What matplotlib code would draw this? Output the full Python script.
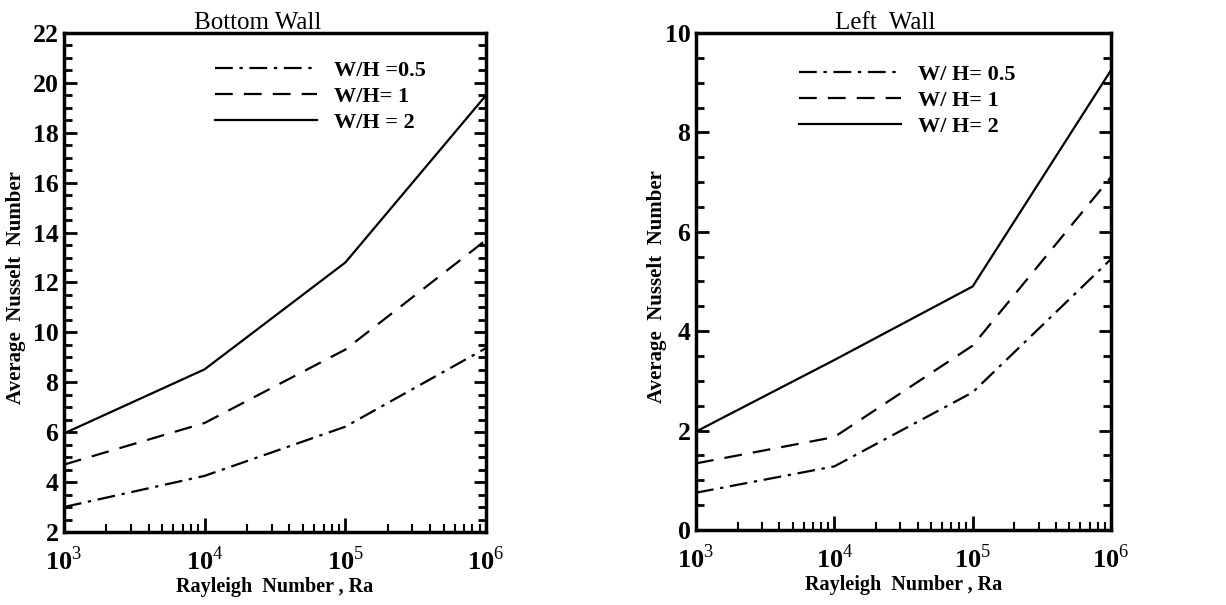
import numpy as np
import matplotlib
matplotlib.use('Agg')
import matplotlib.pyplot as plt
from matplotlib.ticker import MultipleLocator, LogLocator, NullFormatter

plt.rcParams['font.family'] = ['Liberation Serif', 'DejaVu Serif']
plt.rcParams['mathtext.fontset'] = 'custom'
plt.rcParams['mathtext.rm'] = 'Liberation Serif'
plt.rcParams['mathtext.bf'] = 'Liberation Serif:bold'

# Rayleigh numbers
ra = [1e3, 1e4, 1e5, 1e6]

# Bottom wall average Nusselt numbers
bottom_05 = [3.0, 4.25, 6.22, 9.37]
bottom_1 = [4.7, 6.37, 9.31, 13.7]
bottom_2 = [5.95, 8.52, 12.8, 19.5]

# Left wall average Nusselt numbers
left_05 = [0.75, 1.28, 2.77, 5.45]
left_1 = [1.34, 1.87, 3.71, 7.1]
left_2 = [1.98, 3.42, 4.9, 9.25]

bottom_labels = ['W/H =0.5', 'W/H= 1', 'W/H = 2']
left_labels = ['W/ H= 0.5', 'W/ H= 1', 'W/ H= 2']
xtick_vals = [1e3, 1e4, 1e5, 1e6]
xtick_labels = [r'$\mathbf{10}^{3}$', r'$\mathbf{10}^{4}$', r'$\mathbf{10}^{5}$', r'$\mathbf{10}^{6}$']

styles = [(0, (8, 3, 1.5, 3)), (0, (8, 5)), '-']

fig = plt.figure(figsize=(12.26, 6.05), dpi=100)
ax1 = fig.add_axes([0.0522, 0.1207, 0.3442, 0.8248])
ax2 = fig.add_axes([0.5677, 0.124, 0.3385, 0.8215])


def setup(ax, series, labels, ylim, title, title_x, legend_anchor, ylabel_x):
    for y, lab, ls in zip(series, labels, styles):
        ax.plot(ra, y, color='black', linestyle=ls, linewidth=1.6, label=lab)
    ax.set_xscale('log')
    ax.set_xlim(1e3, 1e6)
    ax.set_ylim(*ylim)
    ax.set_xticks(xtick_vals)
    ax.set_xticklabels(xtick_labels, fontsize=19)
    ax.xaxis.set_minor_locator(LogLocator(base=10, subs=np.arange(2, 10)))
    ax.xaxis.set_minor_formatter(NullFormatter())
    ax.yaxis.set_major_locator(MultipleLocator(2))
    ax.yaxis.set_minor_locator(MultipleLocator(0.5))
    for lbl in ax.get_yticklabels():
        lbl.set_fontweight('bold')
        lbl.set_fontsize(18.5)
    ax.tick_params(axis='x', which='major', direction='in', length=10, width=2, pad=10)
    ax.tick_params(axis='x', which='minor', direction='in', length=6, width=1.5)
    ax.tick_params(axis='y', which='both', direction='in', left=True, right=True, width=2, pad=4)
    ax.tick_params(axis='y', which='major', length=9)
    ax.tick_params(axis='y', which='minor', length=6)
    for sp in ax.spines.values():
        sp.set_linewidth(2.5)
    ax.set_xlabel('Rayleigh  Number , Ra', fontsize=14.5, fontweight='bold', labelpad=2)
    ax.set_ylabel('Average  Nusselt  Number', fontsize=15, fontweight='bold')
    ax.yaxis.set_label_coords(ylabel_x, 0.49)
    ax.text(title_x, 0.997, title, transform=ax.transAxes, ha='center', va='bottom', fontsize=18)
    ax.legend(loc='upper left', bbox_to_anchor=legend_anchor, frameon=False,
              handlelength=4.6, handletextpad=0.75, labelspacing=0.25,
              prop={'weight': 'bold', 'size': 16})


setup(ax1, [bottom_05, bottom_1, bottom_2], bottom_labels, (2, 22), 'Bottom Wall', 0.46,
      (0.31, 0.985), -0.09)
setup(ax2, [left_05, left_1, left_2], left_labels, (0, 10), 'Left  Wall', 0.455,
      (0.2, 0.977), -0.07)

fig.savefig('out.png', dpi=100)
